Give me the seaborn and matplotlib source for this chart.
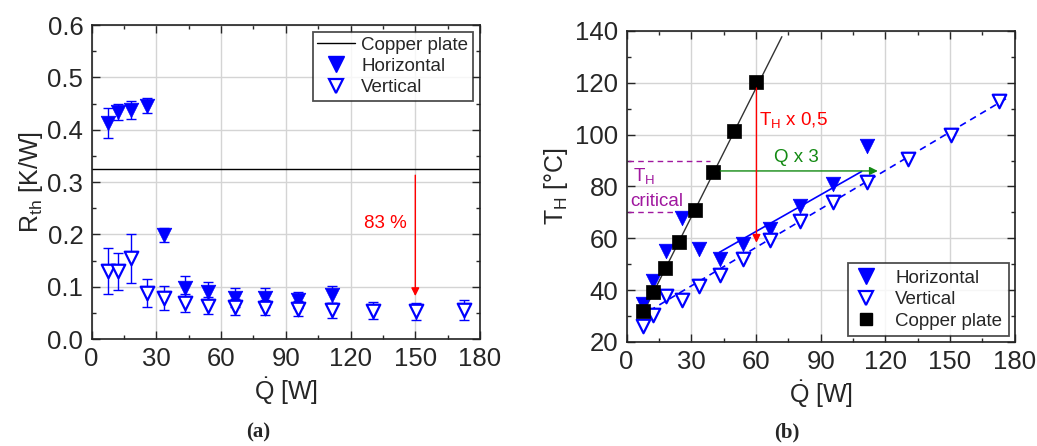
import seaborn as sns
import matplotlib.pyplot as plt
import numpy as np
from matplotlib.lines import Line2D
from matplotlib.ticker import MultipleLocator

# (a) thermal resistance
q_hor = [7.4, 12.0, 18.1, 25.5, 33.4, 43.3, 54.1, 66.6, 80.5, 95.8, 111.6]
r_hor = [0.413, 0.434, 0.438, 0.446, 0.199, 0.097, 0.089, 0.079, 0.079, 0.075, 0.085]
r_hor_err = [0.029, 0.016, 0.017, 0.015, 0.014, 0.024, 0.020, 0.018, 0.018, 0.015, 0.016]

q_ver = [7.4, 12.0, 18.1, 25.5, 33.4, 43.3, 54.1, 66.6, 80.5, 95.8, 111.6, 130.3, 150.4, 172.8]
r_ver = [0.130, 0.129, 0.154, 0.088, 0.078, 0.069, 0.064, 0.061, 0.060, 0.058, 0.055, 0.054, 0.053, 0.056]
r_ver_err = [0.044, 0.036, 0.047, 0.026, 0.023, 0.017, 0.016, 0.015, 0.015, 0.014, 0.014, 0.016, 0.016, 0.019]

r_copper = 0.324

# (b) heater temperature
q_cu = [7.7, 12.1, 17.6, 24.3, 31.5, 40.0, 49.6, 60.2]
t_cu = [31.8, 39.3, 48.5, 58.5, 71.0, 85.7, 101.6, 120.2]
q_cu_fit = [7.5, 72.0]
t_cu_fit = [31.0, 137.8]

t_hor = [34.8, 43.6, 55.3, 67.8, 55.8, 52.1, 57.8, 63.6, 72.3, 80.9, 95.8]
q_hor_fit = [43.0, 109.0]
t_hor_fit = [54.6, 85.8]

t_ver = [26.3, 30.5, 37.6, 36.3, 41.5, 46.0, 52.0, 59.2, 66.5, 74.0, 81.9, 90.5, 99.7, 113.0]
q_ver_fit = [10.5, 177.0]
t_ver_fit = [32.0, 114.4]

blue = '#0000FF'
red = '#FF0000'
green = '#138A13'
purple = '#A0179F'

sns.set_style("ticks")
plt.rcParams['font.family'] = ['Liberation Sans', 'DejaVu Sans']
plt.rcParams['mathtext.fontset'] = 'custom'
plt.rcParams['mathtext.rm'] = 'Liberation Sans'
plt.rcParams['mathtext.it'] = 'Liberation Sans'

fig = plt.figure(figsize=(10.37, 4.46), dpi=100)
ax1 = fig.add_axes([0.0884, 0.2399, 0.3745, 0.704])
ax2 = fig.add_axes([0.6043, 0.2332, 0.3742, 0.6973])


def style_axes(ax):
    ax.grid(True, which='major', color='#d4d4d4', linewidth=1.0, zorder=0)
    ax.set_axisbelow(True)
    ax.tick_params(which='both', direction='in', top=True, right=True,
                   labelsize=18.5, width=1.0, pad=6)
    ax.tick_params(which='major', length=6)
    ax.tick_params(which='minor', length=3)
    for s in ax.spines.values():
        s.set_linewidth(1.2)
        s.set_color('#222222')


# ---- panel (a)
ax1.errorbar(q_hor, r_hor, yerr=r_hor_err, fmt='none', ecolor=blue,
             elinewidth=1.0, capsize=3.5, capthick=1.0, zorder=2)
ax1.errorbar(q_ver, r_ver, yerr=r_ver_err, fmt='none', ecolor=blue,
             elinewidth=1.0, capsize=3.5, capthick=1.0, zorder=2)
ax1.axhline(r_copper, color='black', linewidth=1.0, zorder=2)
sns.scatterplot(x=q_hor, y=r_hor, ax=ax1, marker='v', s=110, color=blue,
                edgecolor=blue, linewidth=0.5, zorder=3)
sns.scatterplot(x=q_ver, y=r_ver, ax=ax1, marker='v', s=95, color=blue,
                facecolor='white', edgecolor=blue, linewidth=1.6, zorder=4)
ax1.annotate('', xy=(150, 0.082), xytext=(150, 0.313),
             arrowprops=dict(arrowstyle='-|>', color=red, lw=1.0,
                             mutation_scale=12, shrinkA=0, shrinkB=0))
ax1.text(136, 0.22, '83 %', color=red, fontsize=13.5, ha='center', va='center')

ax1.set_xlim(0, 180)
ax1.set_ylim(0, 0.6)
ax1.xaxis.set_major_locator(MultipleLocator(30))
ax1.xaxis.set_minor_locator(MultipleLocator(15))
ax1.yaxis.set_major_locator(MultipleLocator(0.1))
ax1.yaxis.set_minor_locator(MultipleLocator(0.05))
ax1.set_yticklabels([f'{v:.1f}' for v in ax1.get_yticks()])
style_axes(ax1)
ax1.set_xlabel(r'$\dot{\mathrm{Q}}$ [W]', fontsize=18, labelpad=3)
ax1.set_ylabel(r'R$_{\mathrm{th}}$ [K/W]', fontsize=18, labelpad=2)

h1 = [Line2D([], [], color='black', lw=1.0),
      Line2D([], [], marker='v', ls='none', color=blue, ms=11),
      Line2D([], [], marker='v', ls='none', color=blue, mfc='white', mew=1.6, ms=10)]
leg1 = ax1.legend(h1, ['Copper plate', 'Horizontal', 'Vertical'], loc='upper right',
                  fontsize=13.5, frameon=True, fancybox=False, edgecolor='#222222',
                  handlelength=2.0, handletextpad=0.35, borderpad=0.25,
                  labelspacing=0.22, borderaxespad=0, bbox_to_anchor=(0.982, 0.978))
leg1.get_frame().set_linewidth(1.3)

# ---- panel (b)
ax2.plot([0.5, 38.6], [89.9, 89.9], color=purple, ls='--', lw=1.0, dashes=(4, 3), zorder=2)
ax2.plot([0.5, 26.0], [70.0, 70.0], color=purple, ls='--', lw=1.0, dashes=(4, 3), zorder=2)
ax2.text(2.8, 84.0, r'T$_{\mathrm{H}}$', color=purple, fontsize=13.5, ha='left', va='center')
ax2.text(1.8, 74.3, 'critical', color=purple, fontsize=13.5, ha='left', va='center')

sns.lineplot(x=q_cu_fit, y=t_cu_fit, ax=ax2, color='#333333', linewidth=1.0, zorder=2)
sns.lineplot(x=q_hor_fit, y=t_hor_fit, ax=ax2, color=blue, linewidth=1.2, zorder=2)
sns.lineplot(x=q_ver_fit, y=t_ver_fit, ax=ax2, color=blue, linewidth=1.2, zorder=2)
ax2.lines[-1].set_dashes((4, 3))

sns.scatterplot(x=q_hor, y=t_hor, ax=ax2, marker='v', s=110, color=blue,
                edgecolor=blue, linewidth=0.5, zorder=3)
sns.scatterplot(x=q_ver, y=t_ver, ax=ax2, marker='v', s=95, color=blue,
                facecolor='white', edgecolor=blue, linewidth=1.6, zorder=4)
sns.scatterplot(x=q_cu, y=t_cu, ax=ax2, marker='s', s=95, color='black',
                edgecolor='black', linewidth=0.5, zorder=5)

ax2.annotate('', xy=(116.5, 86.0), xytext=(43.5, 86.0),
             arrowprops=dict(arrowstyle='-|>', color=green, lw=1.0,
                             mutation_scale=12, shrinkA=0, shrinkB=0), zorder=6)
ax2.text(78.5, 91.0, 'Q x 3', color=green, fontsize=13.5, ha='center', va='center')
ax2.annotate('', xy=(60.2, 58.3), xytext=(60.2, 118.0),
             arrowprops=dict(arrowstyle='-|>', color=red, lw=1.0,
                             mutation_scale=12, shrinkA=0, shrinkB=0), zorder=6)
ax2.text(61.5, 105.5, r'T$_{\mathrm{H}}$ x 0,5', color=red, fontsize=13.5,
         ha='left', va='center')

ax2.set_xlim(0, 180)
ax2.set_ylim(20, 140)
ax2.xaxis.set_major_locator(MultipleLocator(30))
ax2.xaxis.set_minor_locator(MultipleLocator(15))
ax2.yaxis.set_major_locator(MultipleLocator(20))
ax2.yaxis.set_minor_locator(MultipleLocator(10))
style_axes(ax2)
ax2.set_xlabel(r'$\dot{\mathrm{Q}}$ [W]', fontsize=18, labelpad=3)
ax2.set_ylabel(r'T$_{\mathrm{H}}$ [°C]', fontsize=18, labelpad=4)

h2 = [Line2D([], [], marker='v', ls='none', color=blue, ms=11),
      Line2D([], [], marker='v', ls='none', color=blue, mfc='white', mew=1.6, ms=10),
      Line2D([], [], marker='s', ls='none', color='black', ms=9)]
leg2 = ax2.legend(h2, ['Horizontal', 'Vertical', 'Copper plate'], loc='lower right',
                  fontsize=13.5, frameon=True, fancybox=False, edgecolor='#222222',
                  handlelength=1.3, handletextpad=0.9, borderpad=0.35,
                  labelspacing=0.22, borderaxespad=0, bbox_to_anchor=(0.985, 0.019))
leg2.get_frame().set_linewidth(1.3)

fig.text(0.249, 0.03, '(a)', fontsize=15, fontweight='bold',
         family=['Liberation Serif', 'DejaVu Serif'], ha='center', va='center')
fig.text(0.759, 0.03, '(b)', fontsize=15, fontweight='bold',
         family=['Liberation Serif', 'DejaVu Serif'], ha='center', va='center')

fig.savefig('out.png', dpi=100)
